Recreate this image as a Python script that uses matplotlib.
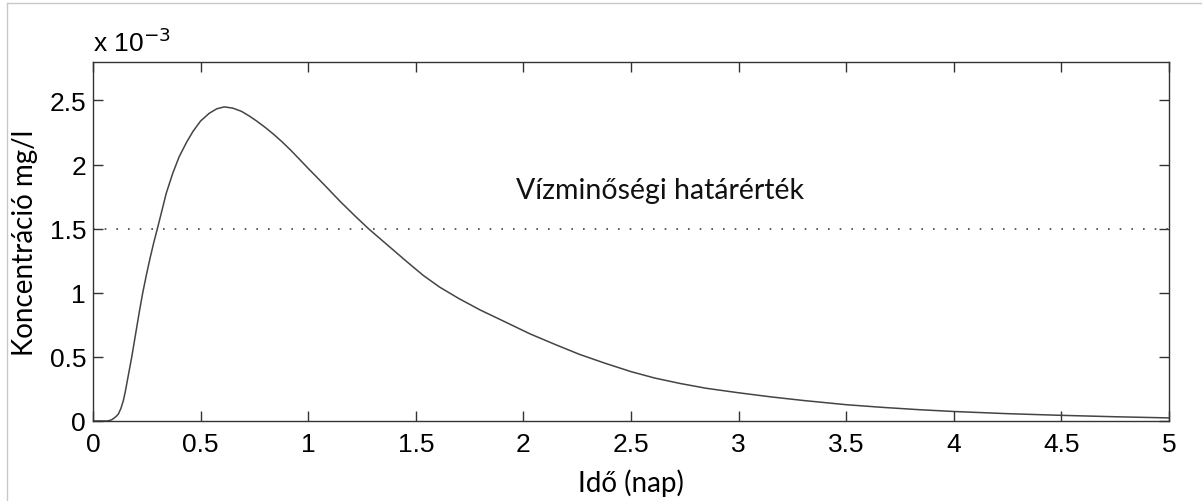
import numpy as np
import matplotlib.pyplot as plt
from matplotlib.lines import Line2D

# concentration (units of 1e-3 mg/l)
ido = [0, 0.064, 0.075, 0.087, 0.10, 0.11, 0.118, 0.13, 0.141, 0.15, 0.16,
       0.17, 0.18, 0.19, 0.20, 0.215, 0.231, 0.248, 0.265, 0.282, 0.299,
       0.32, 0.34, 0.37, 0.40, 0.435, 0.465, 0.50, 0.54, 0.575, 0.61, 0.65,
       0.69, 0.725, 0.76, 0.80, 0.84, 0.88, 0.92, 0.96, 1.0, 1.07, 1.15,
       1.22, 1.28, 1.37, 1.46, 1.535, 1.61, 1.70, 1.80, 1.90, 2.03, 2.15,
       2.26, 2.38, 2.50, 2.61, 2.73, 2.85, 3.0, 3.15, 3.3, 3.5, 3.67, 3.84,
       4.0, 4.25, 4.5, 4.75, 5.0]
konc = [0, 0, 0.003, 0.01, 0.025, 0.04, 0.055, 0.10, 0.16, 0.23, 0.32,
        0.41, 0.5, 0.6, 0.70, 0.85, 1.0, 1.14, 1.27, 1.39, 1.5,
        1.64, 1.775, 1.93, 2.06, 2.175, 2.26, 2.34, 2.40, 2.435, 2.45, 2.44,
        2.415, 2.38, 2.34, 2.29, 2.235, 2.175, 2.11, 2.04, 1.97, 1.85, 1.71,
        1.595, 1.50, 1.37, 1.24, 1.135, 1.045, 0.955, 0.865, 0.785, 0.68, 0.595,
        0.52, 0.45, 0.385, 0.335, 0.292, 0.255, 0.22, 0.188, 0.16, 0.127, 0.106, 0.088,
        0.074, 0.057, 0.044, 0.033, 0.024]
hatarertek = 1.5

xticks = [0, 0.5, 1, 1.5, 2, 2.5, 3, 3.5, 4, 4.5, 5]
xticklabels = ['0', '0.5', '1', '1.5', '2', '2.5', '3', '3.5', '4', '4.5', '5']
yticks = [0, 0.5, 1, 1.5, 2, 2.5]
yticklabels = ['0', '0.5', '1', '1.5', '2', '2.5']

fig = plt.figure(figsize=(12.02, 5.02), dpi=100)
ax = fig.add_axes([0.0774, 0.1594, 0.8951, 0.7151])

ax.plot(ido, konc, color='#444444', lw=1.1)
ax.axhline(hatarertek, color='#444444', lw=1.2, linestyle=(0, (1, 6)))

ax.set_xlim(0, 5)
ax.set_ylim(0, 2.8)
ax.set_xticks(xticks)
ax.set_xticklabels(xticklabels)
ax.set_yticks(yticks)
ax.set_yticklabels(yticklabels)

for s in ax.spines.values():
    s.set_color('#333333')
    s.set_linewidth(1.0)
ax.tick_params(direction='in', length=7.5, width=1, color='#333333',
               top=True, right=True, labelsize=19, pad=5,
               labelfontfamily='Liberation Sans')
ax.tick_params(axis='x', pad=8)

ax.set_xlabel('Idő (nap)', fontsize=20, family='Lato', labelpad=9)
ax.set_ylabel('Koncentráció mg/l', fontsize=20, family='Lato', labelpad=8)

ax.text(2.635, 1.8, 'Vízminőségi határérték', fontsize=20.5, family='Lato',
        ha='center', va='center', color='#111111')

fig.text(93 / 1202, 1 - 52 / 502, r'x 10$^{-3}$', fontsize=19,
         family='Liberation Sans', ha='left', va='baseline')

# thin frame around the picture
fig.add_artist(Line2D([7 / 1202, 7 / 1202], [0, 1 - 4 / 502],
                      transform=fig.transFigure, color='#c8c8c8', lw=1))
fig.add_artist(Line2D([7 / 1202, 1], [1 - 4 / 502, 1 - 4 / 502],
                      transform=fig.transFigure, color='#c8c8c8', lw=1))

fig.savefig('out.png', dpi=100)
